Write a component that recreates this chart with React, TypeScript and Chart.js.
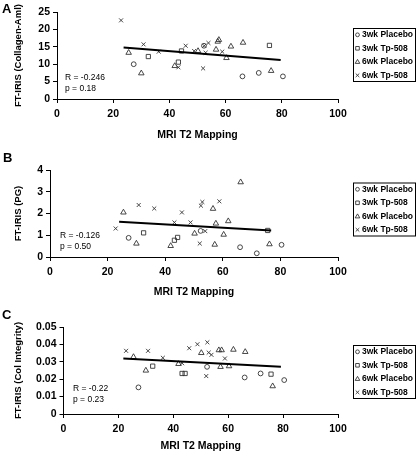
import React, { useEffect, useRef } from 'react';
import { Chart, registerables } from 'chart.js';

Chart.register(...registerables);

// ---- Data ----
const groupLabels = ['3wk Placebo', '3wk Tp-508', '6wk Placebo', '6wk Tp-508'];

// MRI T2 mapping (x) per group, shared by all three panels
const mriPlacebo3wk = [27.3, 52.3, 66.0, 71.8, 80.4];
const mriTp508_3wk = [32.5, 43.2, 44.3, 75.6];
const mriPlacebo6wk = [25.5, 30.0, 41.9, 50.2, 56.6, 57.2, 57.6, 60.3, 61.9, 66.2, 76.2];
const mriTp508_6wk = [22.8, 30.8, 36.2, 43.2, 45.8, 48.8, 52.0, 52.4, 52.9, 53.9, 58.8];

// Panel A: FT-IRIS (Collagen-Aml)
const collagenPlacebo3wk = [10.0, 15.3, 6.5, 7.5, 6.5];
const collagenTp508_3wk = [12.2, 10.6, 13.8, 15.4];
const collagenPlacebo6wk = [13.3, 7.4, 9.5, 13.8, 14.2, 16.5, 17.0, 11.8, 15.1, 16.2, 8.1];
const collagenTp508_6wk = [22.6, 15.7, 13.6, 9.1, 15.3, 13.8, 8.8, 15.3, 13.3, 16.1, 13.6];
const collagenTrendX = [23.7, 79.6];
const collagenTrendY = [14.8, 11.2];

// Panel B: FT-IRIS (PG)
const pgPlacebo3wk = [0.88, 1.2, 0.45, 0.17, 0.56];
const pgTp508_3wk = [1.11, 0.77, 0.9, 1.22];
const pgPlacebo6wk = [2.05, 0.62, 0.51, 1.08, 2.22, 0.57, 1.54, 1.03, 1.65, 3.44, 0.59];
const pgTp508_6wk = [1.31, 2.39, 2.23, 1.59, 2.05, 1.59, 0.62, 2.36, 2.53, 1.19, 2.56];
const pgTrendX = [24.0, 76.8];
const pgTrendY = [1.62, 1.22];

// Panel C: FT-IRIS (Col Integrity)
const ciPlacebo3wk = [0.0153, 0.0271, 0.021, 0.0233, 0.0195];
const ciTp508_3wk = [0.0275, 0.0233, 0.0233, 0.0229];
const ciPlacebo6wk = [0.0328, 0.025, 0.0288, 0.0351, 0.0367, 0.0271, 0.0367, 0.0275, 0.037, 0.0357, 0.016];
const ciTp508_6wk = [0.0363, 0.0363, 0.0323, 0.0292, 0.0378, 0.0401, 0.0218, 0.0412, 0.0353, 0.034, 0.0319];
const ciTrendX = [21.8, 79.2];
const ciTrendY = [0.0319, 0.0271];

const xTitle = 'MRI T2 Mapping';
const statsA = ['R = -0.246', 'p = 0.18'];
const statsB = ['R = -0.126', 'p = 0.50'];
const statsC = ['R = -0.22', 'p = 0.23'];

// ---- Styling / layout ----
const FONT = '"Liberation Sans", Arial, Helvetica, sans-serif';
const groupStyles = ['circle', 'rect', 'triangle', 'crossRot'];
const groupRadii = [2.4, 3, 3.2, 2.8];
const mriByGroup = [mriPlacebo3wk, mriTp508_3wk, mriPlacebo6wk, mriTp508_6wk];

type PanelCfg = {
  letter: string;
  top: number;
  yTitle: string;
  yMax: number;
  yStep: number;
  decimals: number;
  series: number[][];
  trendX: number[];
  trendY: number[];
  stats: string[];
  axisWidth: number;
  xAxisHeight: number;
  legendTop: number;
  statsDx: number;
  statsDy: number[];
};

const panels: PanelCfg[] = [
  {
    letter: 'A', top: 0, yTitle: 'FT-IRIS (Collagen-Aml)', yMax: 25, yStep: 5, decimals: 0,
    series: [collagenPlacebo3wk, collagenTp508_3wk, collagenPlacebo6wk, collagenTp508_6wk],
    trendX: collagenTrendX, trendY: collagenTrendY, stats: statsA,
    axisWidth: 57, xAxisHeight: 42, legendTop: 28, statsDx: 8, statsDy: [21.5, 10],
  },
  {
    letter: 'B', top: 158, yTitle: 'FT-IRIS (PG)', yMax: 4, yStep: 1, decimals: 0,
    series: [pgPlacebo3wk, pgTp508_3wk, pgPlacebo6wk, pgTp508_6wk],
    trendX: pgTrendX, trendY: pgTrendY, stats: statsB,
    axisWidth: 50, xAxisHeight: 41, legendTop: 24.5, statsDx: 10, statsDy: [21.7, 10],
  },
  {
    letter: 'C', top: 315, yTitle: 'FT-IRIS (Col Integrity)', yMax: 0.05, yStep: 0.01, decimals: 2,
    series: [ciPlacebo3wk, ciTp508_3wk, ciPlacebo6wk, ciTp508_6wk],
    trendX: ciTrendX, trendY: ciTrendY, stats: statsC,
    axisWidth: 63.5, xAxisHeight: 38, legendTop: 30, statsDx: 9.5, statsDy: [25, 14],
  },
];

function drawSymbol(ctx: CanvasRenderingContext2D, style: string, x: number, y: number) {
  ctx.save();
  ctx.strokeStyle = '#333';
  ctx.lineWidth = 0.9;
  ctx.beginPath();
  if (style === 'circle') {
    ctx.arc(x, y, 1.9, 0, Math.PI * 2);
  } else if (style === 'rect') {
    ctx.rect(x - 1.8, y - 1.8, 3.6, 3.6);
  } else if (style === 'triangle') {
    ctx.moveTo(x, y - 2.4);
    ctx.lineTo(x + 2.3, y + 1.6);
    ctx.lineTo(x - 2.3, y + 1.6);
    ctx.closePath();
  } else {
    ctx.moveTo(x - 1.8, y - 1.8);
    ctx.lineTo(x + 1.8, y + 1.8);
    ctx.moveTo(x + 1.8, y - 1.8);
    ctx.lineTo(x - 1.8, y + 1.8);
  }
  ctx.stroke();
  ctx.restore();
}

function Panel({ cfg }: { cfg: PanelCfg }) {
  const ref = useRef<HTMLCanvasElement>(null);
  useEffect(() => {
    const canvas = ref.current;
    if (!canvas) return;
    const datasets: any[] = [
      {
        type: 'line',
        label: 'trend',
        data: cfg.trendX.map((x, i) => ({ x, y: cfg.trendY[i] })),
        borderColor: '#000',
        borderWidth: 2,
        pointRadius: 0,
        showLine: true,
        fill: false,
      },
      ...groupLabels.map((label, g) => ({
        type: 'scatter',
        label,
        data: mriByGroup[g].map((x, i) => ({ x, y: cfg.series[g][i] })),
        pointStyle: groupStyles[g],
        pointRadius: groupRadii[g],
        borderColor: '#333',
        backgroundColor: 'rgba(0,0,0,0)',
        pointBorderWidth: 0.9,
        borderWidth: 0.9,
        showLine: false,
      })),
    ];

    const overlay = {
      id: 'overlay',
      afterDraw(chart: any) {
        const ctx: CanvasRenderingContext2D = chart.ctx;
        const a = chart.chartArea;
        ctx.save();
        ctx.fillStyle = '#000';
        ctx.textBaseline = 'middle';
        ctx.textAlign = 'left';
        ctx.font = `8.5px ${FONT}`;
        ctx.fillText(cfg.stats[0], a.left + cfg.statsDx, a.bottom - cfg.statsDy[0]);
        ctx.fillText(cfg.stats[1], a.left + cfg.statsDx, a.bottom - cfg.statsDy[1]);
        // legend box
        ctx.strokeStyle = '#000';
        ctx.lineWidth = 1;
        ctx.strokeRect(353.5, cfg.legendTop + 0.5, 62, 53);
        ctx.font = `bold 8.5px ${FONT}`;
        groupLabels.forEach((lab, g) => {
          const yy = cfg.legendTop + 6.8 + 13.5 * g;
          drawSymbol(ctx, groupStyles[g], 357.5, yy);
          ctx.fillStyle = '#000';
          ctx.fillText(lab, 362, yy);
        });
        ctx.restore();
      },
    };

    const tickFont = { family: FONT, size: 10.5, weight: 'bold' as const };
    const chart = new Chart(canvas, {
      type: 'scatter',
      data: { datasets },
      options: {
        animation: false,
        responsive: false,
        devicePixelRatio: 1,
        layout: { padding: { top: 12, right: 79, bottom: 51 - cfg.xAxisHeight, left: 0 } },
        plugins: { legend: { display: false }, tooltip: { enabled: false } },
        scales: {
          x: {
            type: 'linear',
            min: 0,
            max: 100,
            ticks: { stepSize: 20, color: '#000', font: tickFont, padding: 5, maxRotation: 0 },
            grid: { drawOnChartArea: false, drawTicks: true, tickLength: 4, color: '#000' },
            border: { color: '#000', width: 1 },
            title: { display: true, text: xTitle, color: '#000', font: tickFont, padding: 0 },
            afterFit(s: any) { s.height = cfg.xAxisHeight; },
          },
          y: {
            type: 'linear',
            min: 0,
            max: cfg.yMax,
            ticks: {
              stepSize: cfg.yStep,
              color: '#000',
              font: tickFont,
              padding: 3,
              callback: (v: any) => (Number(v) === 0 ? '0' : Number(v).toFixed(cfg.decimals)),
            },
            grid: { drawOnChartArea: false, drawTicks: true, tickLength: 4, color: '#000' },
            border: { color: '#000', width: 1 },
            title: {
              display: true,
              text: cfg.yTitle,
              color: '#000',
              font: { family: FONT, size: 9.5, weight: 'bold' },
              padding: { top: 13, bottom: 0 },
            },
            afterFit(s: any) { s.width = cfg.axisWidth; },
          },
        },
      } as any,
      plugins: [overlay],
    });
    return () => chart.destroy();
  }, [cfg]);

  return (
    <div style={{ position: 'absolute', left: 0, top: cfg.top, width: 417, height: 150 }}>
      <canvas ref={ref} width={417} height={150} style={{ display: 'block', width: 417, height: 150 }} />
      <div
        style={{
          position: 'absolute',
          left: cfg.letter === 'B' ? 3 : 2,
          top: cfg.letter === 'A' ? 2 : -7,
          font: `bold 13px ${FONT}`,
          lineHeight: '13px',
          color: '#000',
        }}
      >
        {cfg.letter}
      </div>
    </div>
  );
}

export default function App() {
  return (
    <div
      style={{
        position: 'fixed',
        left: 0,
        top: 0,
        width: 417,
        height: 454,
        overflow: 'hidden',
        background: '#fff',
      }}
    >
      {panels.map((p) => (
        <Panel key={p.letter} cfg={p} />
      ))}
    </div>
  );
}
